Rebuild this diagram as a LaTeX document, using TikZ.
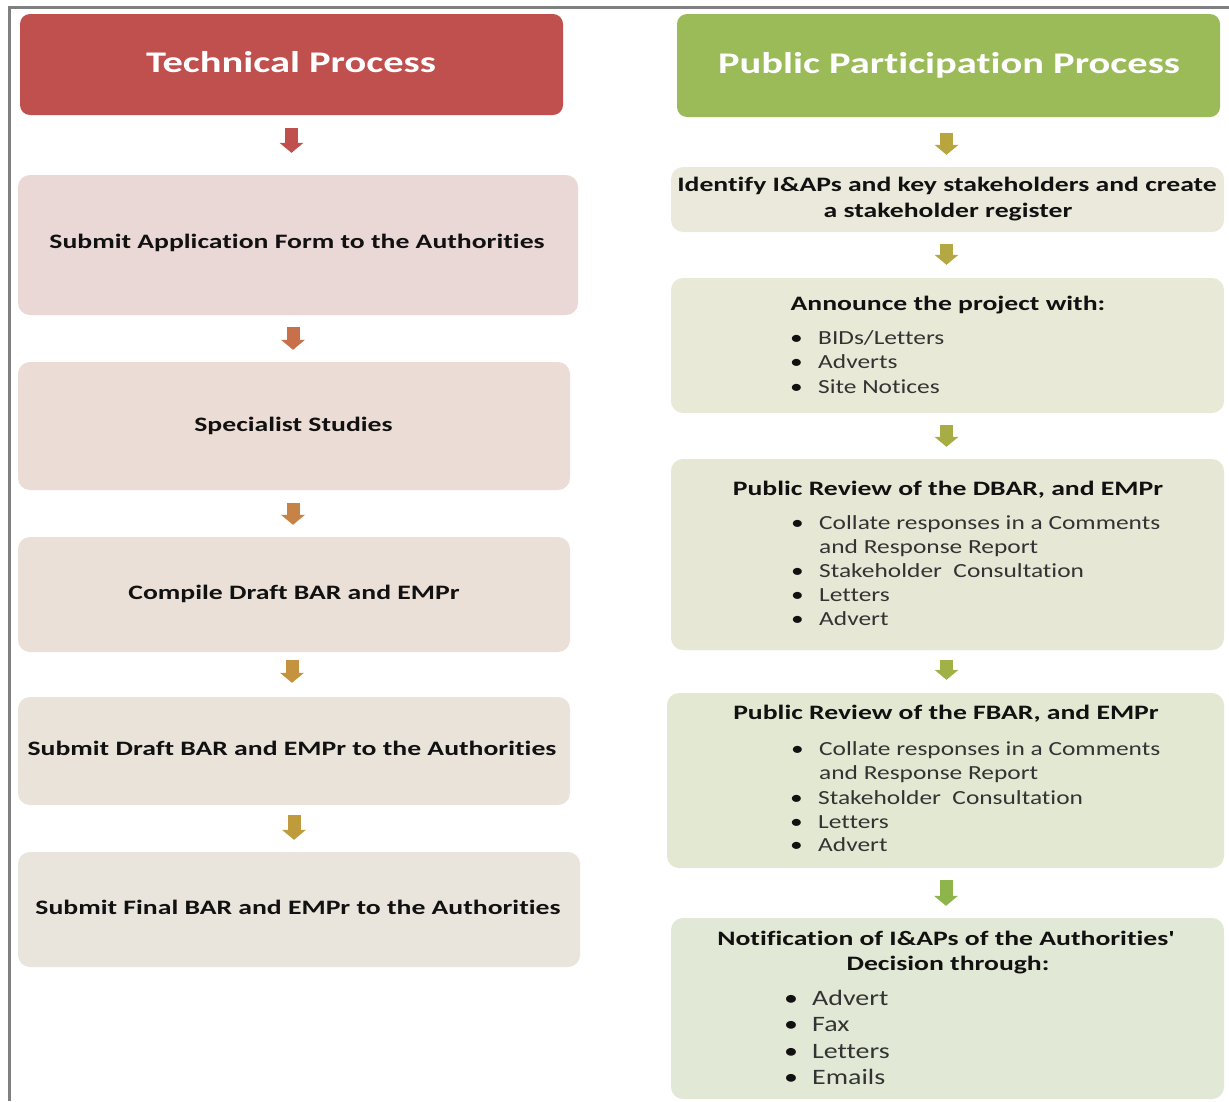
\documentclass[tikz,border=0pt]{standalone}
\usepackage{fontspec}
\newfontfamily\mainf{Carlito}[FakeStretch=1.35, Ligatures={NoCommon,NoContextual}]
\newfontfamily\regfont{Carlito}[FakeStretch=1.27, Ligatures={NoCommon,NoContextual}]
\usetikzlibrary{arrows.meta,calc}
\definecolor{frameC}{HTML}{808080}
\definecolor{hRed}{HTML}{C0504D}
\definecolor{hGreen}{HTML}{9BBB59}
\definecolor{lb1}{HTML}{EAD8D6}
\definecolor{lb2}{HTML}{EBDCD5}
\definecolor{lb3}{HTML}{EAE0D8}
\definecolor{lb4}{HTML}{EAE3DA}
\definecolor{lb5}{HTML}{EAE5DC}
\definecolor{rb1}{HTML}{EBE9DB}
\definecolor{rb2}{HTML}{E9E9D8}
\definecolor{rb3}{HTML}{E6E8D5}
\definecolor{rb4}{HTML}{E3E8D3}
\definecolor{rb5}{HTML}{E1E8D5}
\definecolor{la1}{HTML}{C0504D}
\definecolor{la2}{HTML}{C8704A}
\definecolor{la3}{HTML}{C78346}
\definecolor{la4}{HTML}{C5923F}
\definecolor{la5}{HTML}{BF9B3E}
\definecolor{ra1}{HTML}{B8A53F}
\definecolor{ra2}{HTML}{B3A842}
\definecolor{ra3}{HTML}{A8AC45}
\definecolor{ra4}{HTML}{A1B047}
\definecolor{ra5}{HTML}{8DB54C}
\definecolor{txtB}{HTML}{111111}
\definecolor{txtR}{HTML}{333333}
\tikzset{
  box/.style={rectangle, rounded corners=12pt, draw=none, inner sep=0pt},
  header/.style={box, rounded corners=10pt},
  fatarrow/.style={line width=13pt, -{Triangle[width=24pt,length=10pt,line width=0pt]}},
  headtext/.style={inner sep=0pt, anchor=base, text=white, font=\mainf\fontsize{30}{36}\selectfont\bfseries},
  titletext/.style={inner sep=0pt, anchor=base, text=txtB, font=\mainf\fontsize{20.5}{24}\selectfont\bfseries},
  bullettext/.style={inner sep=0pt, anchor=base west, text=txtR, font=\regfont\fontsize{20}{24}\selectfont},
  bigbullettext/.style={inner sep=0pt, anchor=base west, text=txtR, font=\regfont\fontsize{22}{26}\selectfont},
}
\newcommand{\bul}{\llap{\makebox[28pt][l]{\textcolor{txtB}{\textbullet}}}}
\begin{document}
\begin{tikzpicture}[x=1pt,y=-1pt]
\useasboundingbox (0,0) rectangle (1229,1101);
\fill[white] (0,0) rectangle (1229,1101);
% frame
\draw[frameC, line width=3pt] (1229,7) -- (9.5,7) -- (9.5,1101);

% ---------- left column ----------
\node[header, fill=hRed, minimum width=543pt, minimum height=101pt] (h1) at (291.5,64.5) {};
\node[headtext] (h1t) at (291,72.5) {Technical Process};

\node[box, fill=lb1, minimum width=560pt, minimum height=140pt] (b1) at (298,245) {};
\node[box, fill=lb2, minimum width=552pt, minimum height=128pt] (b2) at (294,426) {};
\node[box, fill=lb3, minimum width=552pt, minimum height=115pt] (b3) at (294,594.5) {};
\node[box, fill=lb4, minimum width=552pt, minimum height=108pt] (b4) at (294,751) {};
\node[box, fill=lb5, minimum width=562pt, minimum height=115pt] (b5) at (299,909.5) {};

\node[titletext] (b1t) at (297,248) {Submit Application Form to the Authorities};
\node[titletext] (b2t) at (293.5,431) {Specialist Studies};
\node[titletext] (b3t) at (294,599) {Compile Draft BAR and EMPr};
\node[titletext] (b4t) at (292,755) {Submit Draft BAR and EMPr to the Authorities};
\node[titletext] (b5t) at (298,914) {Submit Final BAR and EMPr to the Authorities};

\draw[fatarrow, la1] ($(h1.south)+(0,13)$) -- ($(h1.south |- b1.north)+(0,-22)$);
\draw[fatarrow, la2] ($(b2.north |- b1.south)+(-1,12)$) -- ($(b2.north)+(-1,-12)$);
\draw[fatarrow, la3] ($(b3.north |- b2.south)+(-1,13)$) -- ($(b3.north)+(-1,-12)$);
\draw[fatarrow, la4] ($(b3.south)+(-2,8)$) -- ($(b3.south |- b4.north)+(-2,-14)$);
\draw[fatarrow, la5] ($(b4.south)+(0,10)$) -- ($(b4.south |- b5.north)+(0,-12)$);

% ---------- right column ----------
\node[header, fill=hGreen, minimum width=543pt, minimum height=103pt] (h2) at (948.5,65.5) {};
\node[headtext] (h2t) at (949,73.5) {Public Participation Process};

\node[box, fill=rb1, minimum width=553pt, minimum height=65pt] (r1) at (947.5,199.5) {};
\node[box, fill=rb2, minimum width=553pt, minimum height=135pt] (r2) at (947.5,345.5) {};
\node[box, fill=rb3, minimum width=553pt, minimum height=191pt] (r3) at (947.5,554.5) {};
\node[box, fill=rb4, minimum width=557pt, minimum height=175pt] (r4) at (945.5,780.5) {};
\node[box, fill=rb5, minimum width=553pt, minimum height=181pt] (r5) at (947.5,1008.5) {};

\draw[fatarrow, ra1] ($(h2.south)+(-2,16)$) -- ($(h2.south |- r1.north)+(-2,-12)$);
\draw[fatarrow, ra2] ($(r1.south)+(-1,12)$) -- ($(r1.south |- r2.north)+(-1,-13)$);
\draw[fatarrow, ra3] ($(r2.south)+(-1,12)$) -- ($(r2.south |- r3.north)+(-1,-12)$);
\draw[fatarrow, ra4] ($(r3.south)+(-1,10)$) -- ($(r3.south |- r4.north)+(-1,-13)$);
\draw[fatarrow, ra5] ($(r4.south)+(0.5,12)$) -- ($(r4.south |- r5.north)+(0.5,-12)$);

% r1
\node[titletext] (r1t1) at (947,191) {Identify I\&APs and key stakeholders and create};
\node[titletext] (r1t2) at (948,217) {a stakeholder register};
% r2
\node[titletext] (r2t) at (948,310) {Announce the project with:};
\node[bullettext] (r2a) at (818,344) {\bul BIDs/Letters};
\node[bullettext] (r2b) at (818,368) {\bul Adverts};
\node[bullettext] (r2c) at (818,393) {\bul Site Notices};
% r3
\node[titletext] (r3t) at (948,495) {Public Review of the DBAR, and EMPr};
\node[bullettext] (r3a) at (819,529) {\bul Collate responses in a Comments};
\node[bullettext] (r3b) at (819,553) {and Response Report};
\node[bullettext] (r3c) at (819,577) {\bul Stakeholder\ \ Consultation};
\node[bullettext] (r3d) at (819,601) {\bul Letters};
\node[bullettext] (r3e) at (819,625) {\bul Advert};
% r4
\node[titletext] (r4t) at (946,719) {Public Review of the FBAR, and EMPr};
\node[bullettext] (r4a) at (819,755) {\bul Collate responses in a Comments};
\node[bullettext] (r4b) at (819,779) {and Response Report};
\node[bullettext] (r4c) at (818,804) {\bul Stakeholder\ \ Consultation};
\node[bullettext] (r4d) at (818,828) {\bul Letters};
\node[bullettext] (r4e) at (818,851) {\bul Advert};
% r5
\node[titletext] (r5t1) at (946,945) {Notification of I\&APs of the Authorities'};
\node[titletext] (r5t2) at (948,970) {Decision through:};
\node[bigbullettext] (r5a) at (812,1005) {\bul Advert};
\node[bigbullettext] (r5b) at (812,1031) {\bul Fax};
\node[bigbullettext] (r5c) at (812,1058) {\bul Letters};
\node[bigbullettext] (r5d) at (812,1084) {\bul Emails};
\end{tikzpicture}
\end{document}
